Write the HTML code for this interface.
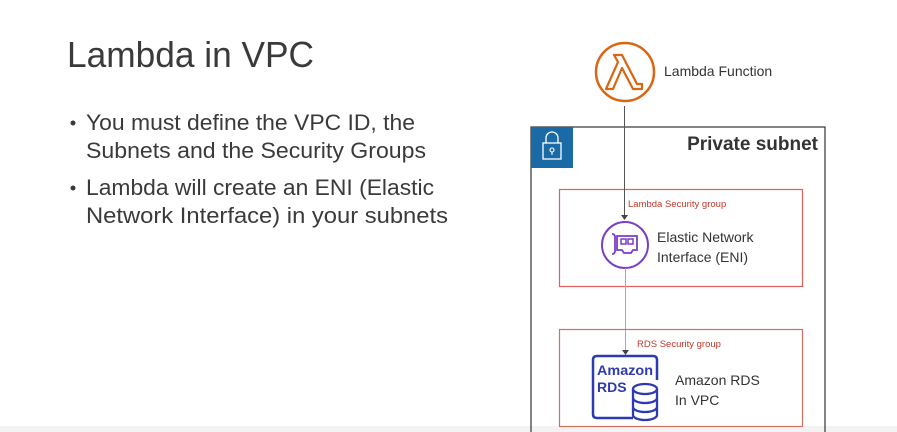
<!DOCTYPE html>
<html><head><meta charset="utf-8"><style>
html,body{margin:0;padding:0;background:#fff;}
svg{display:block;}
</style></head><body>
<svg width="897" height="432" viewBox="0 0 897 432" xmlns="http://www.w3.org/2000/svg" font-family="Liberation Sans, sans-serif">
<rect width="897" height="432" fill="#fff"/>
<rect x="0" y="426" width="897" height="6" fill="#f3f3f3"/>
<text x="67" y="67" font-size="36" fill="#3a3a3a" textLength="247" lengthAdjust="spacingAndGlyphs">Lambda in VPC</text>
<g font-size="22" fill="#3a3a3a">
<circle cx="73" cy="123" r="2.5" fill="#3a3a3a"/>
<text x="86" y="130" textLength="329" lengthAdjust="spacingAndGlyphs">You must define the VPC ID, the</text>
<text x="86" y="158" textLength="340" lengthAdjust="spacingAndGlyphs">Subnets and the Security Groups</text>
<circle cx="73" cy="188" r="2.5" fill="#3a3a3a"/>
<text x="86" y="195" textLength="348" lengthAdjust="spacingAndGlyphs">Lambda will create an ENI (Elastic</text>
<text x="86" y="223" textLength="362" lengthAdjust="spacingAndGlyphs">Network Interface) in your subnets</text>
</g>
<!-- Lambda -->
<circle cx="625" cy="72" r="29" fill="none" stroke="#d86613" stroke-width="2.5"/>
<path d="M614 55 h8 l15 29 h5 v5 h-9 l-11-21 -9 21 h-7 l12-27 -4-7 h0 z" fill="none" stroke="#d86613" stroke-width="2.2" stroke-linejoin="round"/>
<text x="664" y="76" font-size="14" fill="#333">Lambda Function</text>
<!-- subnet -->
<rect x="531" y="127" width="294" height="310" fill="none" stroke="#333" stroke-width="1.2"/>
<rect x="531" y="127" width="42" height="41" fill="#1a6aa5"/>
<rect x="543" y="143" width="18" height="16" fill="none" stroke="#fff" stroke-width="1.3"/>
<path d="M546 143 v-5 a6 6 0 0 1 12 0 v5" fill="none" stroke="#fff" stroke-width="1.3"/>
<circle cx="552" cy="150" r="2" fill="none" stroke="#fff" stroke-width="1.1"/>
<line x1="552" y1="152" x2="552" y2="155" stroke="#fff" stroke-width="1.1"/>
<text x="818" y="150" font-size="19" font-weight="bold" fill="#333" text-anchor="end">Private subnet</text>
<!-- lambda SG -->
<rect x="559.5" y="189.5" width="243" height="97" fill="none" stroke="#e06060" stroke-width="1.2"/>
<text x="628" y="207" font-size="9.5" fill="#c0392b">Lambda Security group</text>
<line x1="624.5" y1="106" x2="624.5" y2="216" stroke="#555" stroke-width="1"/>
<path d="M621 215 l3.5 5 3.5-5z" fill="#444"/>
<circle cx="625" cy="245" r="23" fill="none" stroke="#7b3fc4" stroke-width="2"/>
<path d="M612 234 q3 0 3 3 v14 q0 3 -3 3" fill="none" stroke="#7b3fc4" stroke-width="1.8"/>
<path d="M617 236 h20 v14 h-4 l-2 3 h-7 l-2-3 h-5 z" fill="none" stroke="#7b3fc4" stroke-width="1.8"/>
<rect x="621" y="239" width="5" height="5" fill="none" stroke="#7b3fc4" stroke-width="1.5"/>
<rect x="628" y="239" width="5" height="5" fill="none" stroke="#7b3fc4" stroke-width="1.5"/>
<text x="657" y="242" font-size="14" fill="#333">Elastic Network</text>
<text x="657" y="262" font-size="14" fill="#333">Interface (ENI)</text>
<!-- RDS SG -->
<line x1="625.5" y1="268" x2="625.5" y2="351" stroke="#aaa" stroke-width="1"/>
<path d="M622 350 l3.5 5 3.5-5z" fill="#444"/>
<rect x="559.5" y="329.5" width="243" height="97" fill="none" stroke="#d07060" stroke-width="1.2"/>
<text x="637" y="347" font-size="9.5" fill="#c0392b">RDS Security group</text>
<path d="M633 418 h-36 q-4 0 -4 -4 v-54 q0 -4 4 -4 h56 q4 0 4 4 v20" fill="none" stroke="#2e3ab3" stroke-width="2.5"/>
<text x="597" y="375" font-size="14" font-weight="bold" fill="#2e3ab3" textLength="56" lengthAdjust="spacingAndGlyphs">Amazon</text>
<text x="597" y="392" font-size="14" font-weight="bold" fill="#2e3ab3">RDS</text>
<g fill="none" stroke="#2e3ab3" stroke-width="2.3">
<ellipse cx="645" cy="389" rx="12" ry="5" fill="#fff"/>
<path d="M633 389 v26 a12 5 0 0 0 24 0 v-26"/>
<path d="M633 398 a12 5 0 0 0 24 0"/>
<path d="M633 407 a12 5 0 0 0 24 0"/>
</g>
<text x="675" y="385" font-size="14" fill="#333">Amazon RDS</text>
<text x="675" y="405" font-size="14" fill="#333">In VPC</text>
</svg>
</body></html>
